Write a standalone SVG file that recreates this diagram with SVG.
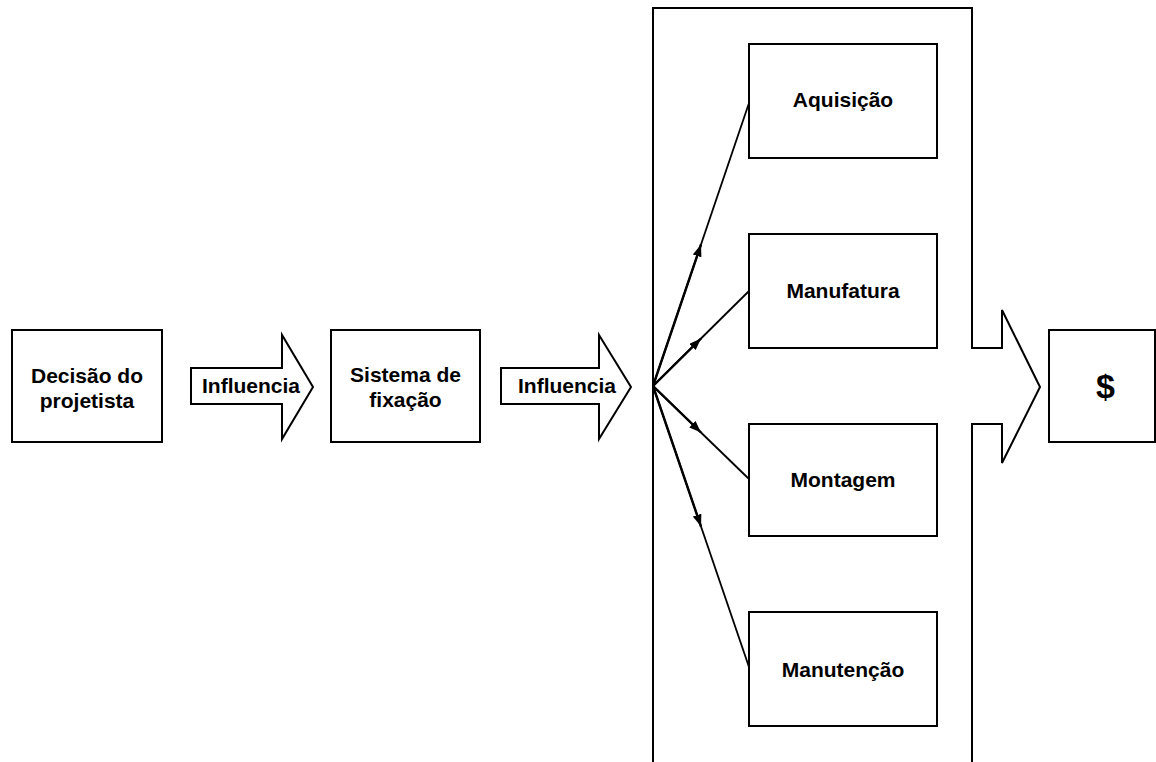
<svg xmlns="http://www.w3.org/2000/svg" width="1156" height="762" viewBox="0 0 1156 762">
  <style>
    .box { fill: #fff; stroke: #000; stroke-width: 2; }
    .outline { fill: none; stroke: #000; stroke-width: 2; }
    .label { font-family: "Liberation Sans", Arial, sans-serif; font-weight: bold; font-size: 21px; fill: #000; text-anchor: middle; }
    .fan { stroke: #000; stroke-width: 1.8; fill: none; }
    .fan-head { stroke: #000; stroke-width: 2.4; fill: none; marker-end: url(#tip); }
  </style>
  <defs>
    <marker id="tip" markerUnits="userSpaceOnUse" markerWidth="12" markerHeight="9" refX="12" refY="4.5" orient="auto">
      <path d="M0,0 L12,4.5 L0,9 z" fill="#000"/>
    </marker>
  </defs>
  <rect width="1156" height="762" fill="#fff"/>

  <!-- first decision box -->
  <g id="decisao">
    <rect class="box" x="12" y="330" width="150" height="112"/>
    <text class="label" x="87" y="383">Decisão do</text>
    <text class="label" x="87" y="408">projetista</text>
  </g>

  <!-- block arrow: Influencia (1) -->
  <g id="influencia1">
    <path class="box" d="M191,368 L282,368 L282,335 L313,387 L282,439 L282,404 L191,404 Z"/>
    <text class="label" x="251" y="393">Influencia</text>
  </g>

  <!-- fastening system box -->
  <g id="sistema">
    <rect class="box" x="331" y="330" width="149" height="112"/>
    <text class="label" x="405.5" y="382">Sistema de</text>
    <text class="label" x="405.5" y="407">fixação</text>
  </g>

  <!-- block arrow: Influencia (2) -->
  <g id="influencia2">
    <path class="box" d="M501,368 L599,368 L599,335 L631,387 L599,439 L599,404 L501,404 Z"/>
    <text class="label" x="567" y="393">Influencia</text>
  </g>

  <!-- cost container with its outgoing block arrow -->
  <g id="custos">
    <path class="outline" d="M653,775 L653,8 L972,8 L972,348 L1002,348 L1002,310 L1040,387 L1002,463 L1002,424 L972,424 L972,775"/>
  </g>

  <g id="aquisicao">
    <rect class="box" x="749" y="44" width="188" height="114"/>
    <text class="label" x="843" y="107">Aquisição</text>
  </g>
  <g id="manufatura">
    <rect class="box" x="749" y="234" width="188" height="114"/>
    <text class="label" x="843" y="298">Manufatura</text>
  </g>
  <g id="montagem">
    <rect class="box" x="749" y="424" width="188" height="112"/>
    <text class="label" x="843" y="487">Montagem</text>
  </g>
  <g id="manutencao">
    <rect class="box" x="749" y="612" width="188" height="114"/>
    <text class="label" x="843" y="677">Manutenção</text>
  </g>

  <!-- result box -->
  <g id="custo">
    <rect class="box" x="1049" y="330" width="106" height="112"/>
    <text class="label" x="1105.5" y="398" style="font-size:34px">$</text>
  </g>

  <!-- fan of influences from the fastening system -->
  <g id="connectors">
    <line class="fan" x1="653" y1="386" x2="749" y2="103"/>
    <line class="fan" x1="653" y1="386" x2="749" y2="291"/>
    <line class="fan" x1="653" y1="386" x2="749" y2="479"/>
    <line class="fan" x1="653" y1="386" x2="749" y2="667"/>
    <line class="fan-head" x1="653" y1="386" x2="701" y2="244.5"/>
    <line class="fan-head" x1="653" y1="386" x2="701" y2="338.5"/>
    <line class="fan-head" x1="653" y1="386" x2="701" y2="432.5"/>
    <line class="fan-head" x1="653" y1="386" x2="701" y2="526.5"/>
  </g>
</svg>
